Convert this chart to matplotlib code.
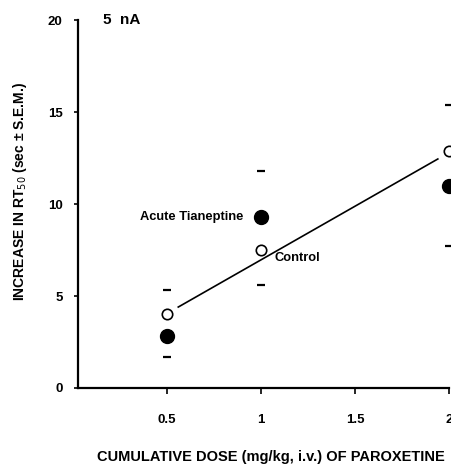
import numpy as np
import matplotlib.pyplot as plt

plt.rcParams['font.family'] = ['Liberation Sans', 'DejaVu Sans']

# cumulative paroxetine dose (mg/kg)
dose = [0.5, 1.0, 2.0]
# mean increase in RT50 (sec)
acute_mean = [2.8, 9.3, 11.0]
control_mean = [4.0, 7.5, 12.9]
# S.E.M. cap positions drawn at each dose
cap_x = [0.5, 0.5, 1.0, 1.0, 2.0, 2.0]
cap_y = [5.3, 1.7, 11.8, 5.6, 15.4, 7.7]
# fitted line for the control group
fit_x = [0.56, 1.94]
fit_y = [4.4, 12.45]

fig = plt.figure(figsize=(4.52, 4.68), dpi=100)
ax = fig.add_axes([0.1726, 0.171, 0.821, 0.786])

ax.plot(fit_x, fit_y, color='black', linewidth=1.2, zorder=2)
ax.plot(cap_x, cap_y, linestyle='none', marker='_', markersize=5.5,
        markeredgewidth=1.6, color='black', zorder=3, clip_on=False)
ax.plot(dose, control_mean, linestyle='none', marker='o', markersize=7.5,
        markerfacecolor='white', markeredgecolor='black', markeredgewidth=1.2,
        zorder=3, clip_on=False)
ax.plot(dose, acute_mean, linestyle='none', marker='o', markersize=10,
        color='black', zorder=4, clip_on=False)

ax.text(0.905, acute_mean[1], 'Acute Tianeptine', ha='right', va='center',
        fontsize=9.3, fontweight='bold')
ax.text(1.074, 7.07, 'Control', ha='left', va='center',
        fontsize=9.3, fontweight='bold')
ax.text(0.16, 20.0, '5  nA', ha='left', va='center',
        fontsize=11, fontweight='bold')

ax.set_xlim(0.027, 2.0)
ax.set_ylim(0, 20)
ax.set_xticks([0.5, 1, 1.5, 2])
ax.set_xticklabels(['0.5', '1', '1.5', '2'])
ax.set_yticks([0, 5, 10, 15, 20])

ax.spines['top'].set_visible(False)
ax.spines['right'].set_visible(False)
ax.spines['left'].set_linewidth(1.6)
ax.spines['bottom'].set_linewidth(1.6)
ax.tick_params(axis='x', direction='out', length=4, width=1.2, pad=15,
               labelsize=9.5)
ax.tick_params(axis='y', direction='out', length=3, width=1.2, pad=8,
               labelsize=9.5)
for lab in ax.get_xticklabels() + ax.get_yticklabels():
    lab.set_fontweight('bold')

fig.text(20 / 452, 1 - 191 / 468, 'INCREASE IN RT$_{50}$ (sec ± S.E.M.)',
         rotation=90, ha='center', va='center', fontsize=10, fontweight='bold')
fig.text(271 / 452, 1 - 457 / 468, 'CUMULATIVE DOSE (mg/kg, i.v.) OF PAROXETINE',
         ha='center', va='center', fontsize=10.5, fontweight='bold')

fig.savefig('out.png', dpi=100)
